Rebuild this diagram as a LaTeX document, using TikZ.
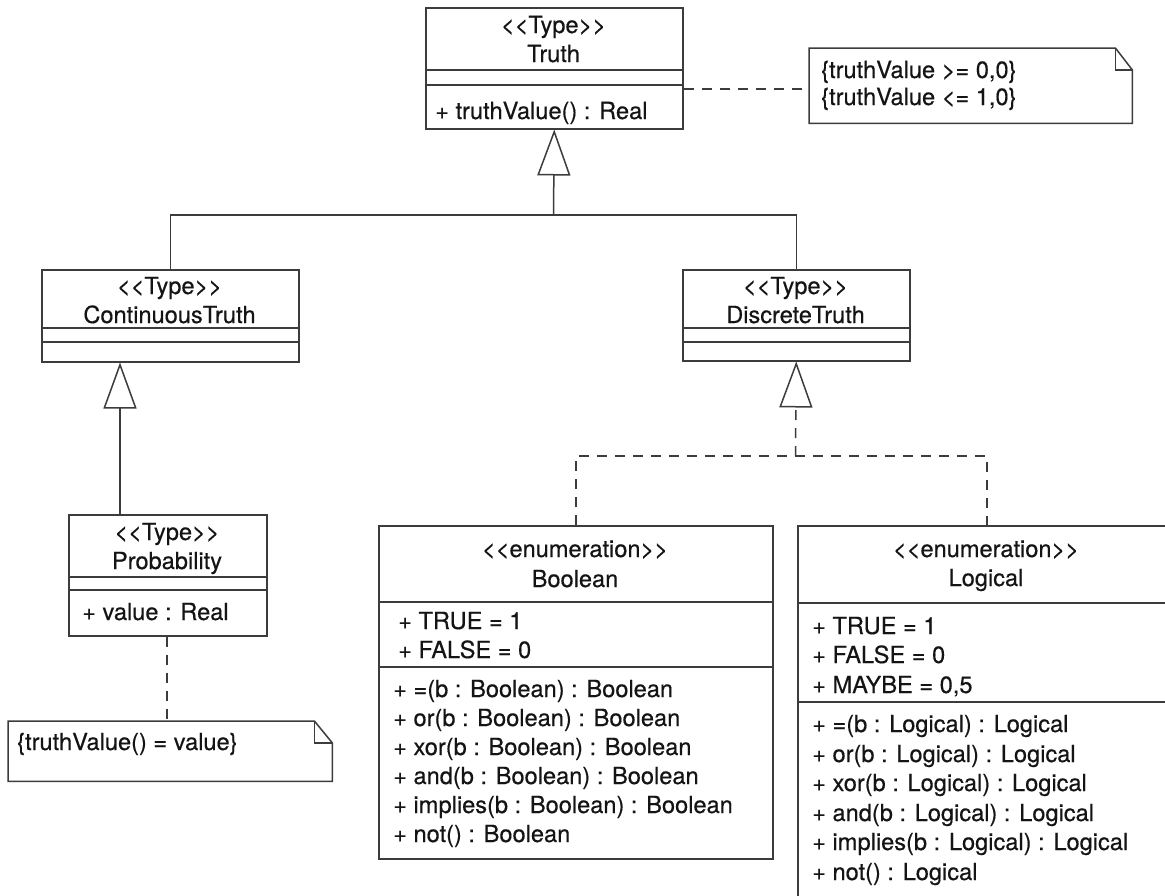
\documentclass[tikz,border=0pt]{standalone}
\usepackage{fontspec}
\setmainfont{TeX Gyre Heros}[FakeBold=0.4]
\usetikzlibrary{arrows.meta,calc}

% stereotype brackets (a kern keeps << and >> from ligaturing)
\newcommand\stO{<\kern0pt<}
\newcommand\stC{>\kern0pt>}
% horizontal compartment line across a box, #2 below its top edge
\newcommand\sepline[2]{\draw[ln] ($(#1.north west)+(0,#2)$) -- ($(#1.north east)+(0,#2)$);}

\definecolor{lc}{HTML}{3C3C3C}
\definecolor{tc}{HTML}{141414}

\tikzset{
  ln/.style={draw=lc, line width=1.5pt},
  box/.style={ln, fill=white, rectangle, inner sep=0pt, anchor=north west},
  notebox/.style={rectangle, inner sep=0pt, anchor=north west},
  txt/.style={inner sep=0pt, anchor=base, text=tc, font=\fontsize{23.6}{29}\selectfont},
  ltxt/.style={txt, anchor=base west},
  dsh/.style={ln, dash pattern=on 10pt off 8pt},
  gentip/.style={-{Triangle[length=46pt, width=33pt, fill=white, line width=1.5pt]}},
  gen/.style={ln, gentip},
  real/.style={dsh, gentip},
}

\begin{document}
\begin{tikzpicture}[x=1pt, y=-1pt]
\clip (0,0) rectangle (1165,895);
\fill[white] (0,0) rectangle (1165,895);

% ---------- classes ----------
\node[box, minimum width=257pt, minimum height=121pt] (truth) at (425,7) {};
\sepline{truth}{63}\sepline{truth}{78}
\node[txt] (truthS) at (553.5,33) {\stO Type\stC};
\node[txt] (truthN) at (553.5,62) {Truth};
\node[ltxt] (truthO) at (435,119) {+ truthValue() : Real};

\node[box, minimum width=257pt, minimum height=92pt] (cont) at (41,269) {};
\sepline{cont}{59}\sepline{cont}{73}
\node[txt] (contS) at (169.5,294) {\stO Type\stC};
\node[txt] (contN) at (169.5,323) {ContinuousTruth};

\node[box, minimum width=227pt, minimum height=91pt] (disc) at (682,269) {};
\sepline{disc}{59}\sepline{disc}{73}
\node[txt] (discS) at (795.5,294) {\stO Type\stC};
\node[txt] (discN) at (795.5,323) {DiscreteTruth};

\node[box, minimum width=198pt, minimum height=121pt] (prob) at (68,514) {};
\sepline{prob}{63}\sepline{prob}{76}
\node[txt] (probS) at (167,540) {\stO Type\stC};
\node[txt] (probN) at (167,569) {Probability};
\node[ltxt] (probA) at (82,620) {+ value : Real};

\node[box, minimum width=394pt, minimum height=333pt] (bool) at (378,525) {};
\sepline{bool}{77}\sepline{bool}{142}
\node[txt] (boolS) at (575,557) {\stO enumeration\stC};
\node[txt] (boolN) at (575,587) {Boolean};
\node[ltxt] (boolA1) at (398,629) {+ TRUE = 1};
\node[ltxt] (boolA2) at (398,658) {+ FALSE = 0};
\foreach \t/\yy [count=\i] in {{+ =(b : Boolean) : Boolean}/697,
    {+ or(b : Boolean) : Boolean}/726,
    {+ xor(b : Boolean) : Boolean}/755,
    {+ and(b : Boolean) : Boolean}/784,
    {+ implies(b : Boolean) : Boolean}/813,
    {+ not() : Boolean}/842}
  \node[ltxt] (boolM\i) at (393,\yy) {\t};

\node[box, minimum width=378pt, minimum height=420pt] (logi) at (797,525) {};
\sepline{logi}{78}\sepline{logi}{177}
\node[txt] (logiS) at (986,557) {\stO enumeration\stC};
\node[txt] (logiN) at (986,586) {Logical};
\node[ltxt] (logiA1) at (812,634) {+ TRUE = 1};
\node[ltxt] (logiA2) at (812,663) {+ FALSE = 0};
\node[ltxt] (logiA3) at (812,693) {+ MAYBE = 0,5};
\foreach \t/\yy [count=\i] in {{+ =(b : Logical) : Logical}/732,
    {+ or(b : Logical) : Logical}/762,
    {+ xor(b : Logical) : Logical}/791,
    {+ and(b : Logical) : Logical}/821,
    {+ implies(b : Logical) : Logical}/850,
    {+ not() : Logical}/880}
  \node[ltxt] (logiM\i) at (812,\yy) {\t};

% ---------- notes ----------
\node[notebox, minimum width=323pt, minimum height=75pt] (note1) at (809,48) {};
\draw[ln, line join=miter] (note1.north west) -- ($(note1.north east)+(-17,0)$)
  -- ($(note1.north east)+(0,22)$) -- (note1.south east) -- (note1.south west) -- cycle;
\draw[ln] ($(note1.north east)+(-17,0)$) |- ($(note1.north east)+(0,22)$);
\node[ltxt] (note1a) at (821,78) {\{truthValue >= 0,0\}};
\node[ltxt] (note1b) at (821,105) {\{truthValue <= 1,0\}};

\node[notebox, minimum width=324pt, minimum height=60pt] (note2) at (8,721) {};
\draw[ln, line join=miter] (note2.north west) -- ($(note2.north east)+(-18,0)$)
  -- ($(note2.north east)+(0,22)$) -- (note2.south east) -- (note2.south west) -- cycle;
\draw[ln] ($(note2.north east)+(-18,0)$) |- ($(note2.north east)+(0,22)$);
\node[ltxt] (note2a) at (17,750) {\{truthValue() = value\}};

% ---------- generalizations ----------
\coordinate (tee1) at (553.5,215);
\draw[ln] (cont.north) -- ++(0,-54) -| (disc.north);
\draw[gen] (tee1) -- (truth.south);
\draw[gen] ($(prob.north west)+(52,0)$) -- ($(cont.south west)+(79,0)$);

% ---------- realizations ----------
\coordinate (tee2) at (795.5,456);
\draw[dsh] (bool.north) -- ++(0,-69) -| (logi.north);
\draw[real] (tee2) -- (disc.south);

% ---------- note anchors ----------
\draw[dsh] ($(truth.north east)+(0,82)$) -- ($(note1.north west)+(0,41)$);
\draw[dsh] ($(prob.south west)+(99,0)$) -- ($(note2.north west)+(159,0)$);
\end{tikzpicture}
\end{document}
